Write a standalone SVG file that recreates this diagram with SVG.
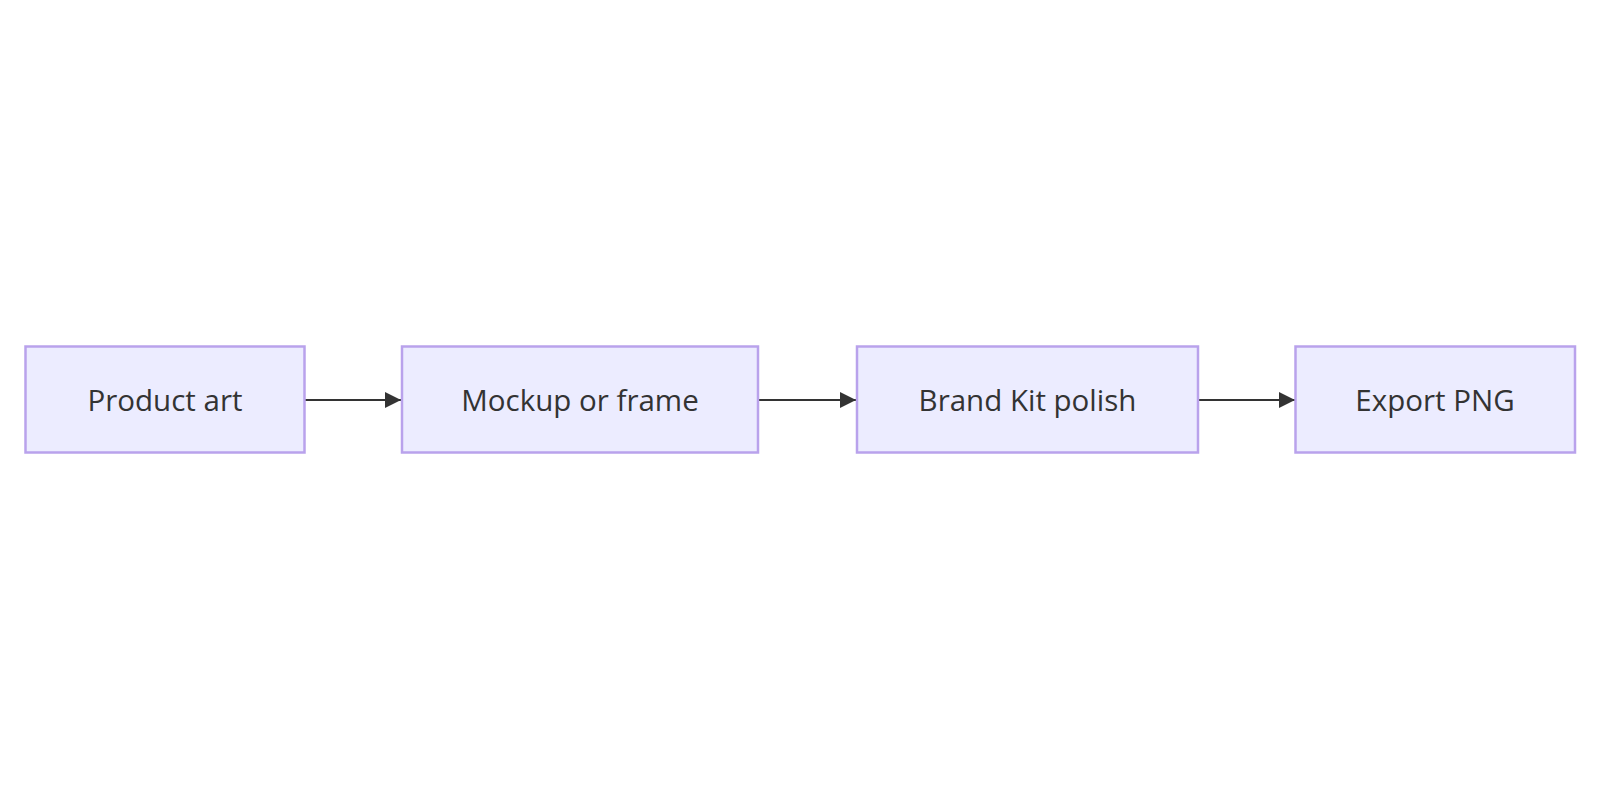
<svg xmlns="http://www.w3.org/2000/svg" width="1600" height="800" viewBox="0 0 1600 800">
<style>
.node rect{fill:#ECECFF;stroke:#B9A2EC;stroke-width:2.5}
.node text{font-family:"Open Sans","Noto Sans",sans-serif;font-size:29.5px;fill:#333333;text-anchor:middle}
.edge{stroke:#333333;stroke-width:2;fill:none}
</style>
<defs>
<marker id="arrow" viewBox="0 0 10 10" refX="10" refY="5" markerWidth="8" markerHeight="8" markerUnits="userSpaceOnUse" orient="auto">
<path d="M0,0 L10,5 L0,10 z" fill="#333333"/>
</marker>
<marker id="arrowhead" viewBox="0 0 16 16" refX="16" refY="8" markerWidth="16" markerHeight="16" markerUnits="userSpaceOnUse" orient="auto">
<path d="M0,0 L16,8 L0,16 z" fill="#333333"/>
</marker>
</defs>
<rect width="1600" height="800" fill="#FFFFFF"/>
<g id="connectors">
<line class="edge" x1="305" y1="400" x2="401" y2="400" marker-end="url(#arrowhead)"/>
<line class="edge" x1="759" y1="400" x2="856" y2="400" marker-end="url(#arrowhead)"/>
<line class="edge" x1="1198" y1="400" x2="1295" y2="400" marker-end="url(#arrowhead)"/>
</g>
<g id="node-product-art" class="node">
<rect x="25.5" y="346.5" width="279" height="106"/>
<text x="165" y="411">Product art</text>
</g>
<g id="node-mockup" class="node">
<rect x="402" y="346.5" width="356" height="106"/>
<text x="580" y="411">Mockup or frame</text>
</g>
<g id="node-brand-kit" class="node">
<rect x="857" y="346.5" width="341" height="106"/>
<text x="1027.5" y="411">Brand Kit polish</text>
</g>
<g id="node-export" class="node">
<rect x="1295.5" y="346.5" width="279.5" height="106"/>
<text x="1435" y="411">Export PNG</text>
</g>
</svg>
